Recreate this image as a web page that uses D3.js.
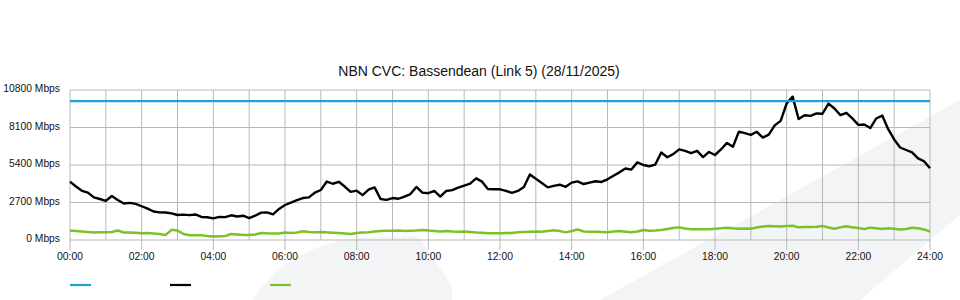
<!DOCTYPE html>
<html lang="en">

<head>
  <meta charset="UTF-8">
  <title>NBN CVC: Bassendean (Link 5)</title>
  <style>
    body {
      margin: 0;
      padding: 0;
      background-color: #fff;
      font-family: "Liberation Sans", Arial, sans-serif;
    }

    #chart {
      width: 960px;
      height: 300px;
    }
  </style>
</head>

<body>

  <script src="https://cdn.jsdelivr.net/npm/d3@7"></script>

  <div id="chart"></div>

  <script>

    // chart data (one sample every 10 minutes, 00:00 -> 24:00)
    var chartTitle = "NBN CVC: Bassendean (Link 5) (28/11/2025)";
    var stepMinutes = 10;
    var capacityMbps = 10000;

    var usageMbps = [
      4200, 3850, 3540, 3410, 3070, 2950, 2820, 3170, 2880, 2630,
      2670, 2600, 2430, 2260, 2050, 1990, 1980, 1920, 1800, 1830,
      1790, 1840, 1660, 1640, 1560, 1660, 1650, 1780, 1690, 1750,
      1580, 1750, 1970, 1990, 1850, 2240, 2520, 2690, 2870, 3020,
      3070, 3410, 3600, 4210, 4050, 4190, 3850, 3470, 3550, 3230,
      3620, 3790, 2950, 2890, 3020, 2970, 3130, 3310, 3820, 3410,
      3370, 3530, 3130, 3530, 3590, 3770, 3910, 4060, 4440, 4200,
      3660, 3650, 3650, 3540, 3400, 3530, 3820, 4720, 4410, 4100,
      3790, 3900, 3980, 3830, 4130, 4220, 4030, 4130, 4230, 4180,
      4370, 4630, 4870, 5150, 5070, 5590, 5400, 5310, 5430, 6300,
      5960, 6180, 6530, 6420, 6260, 6420, 5970, 6340, 6120, 6520,
      6990, 6710, 7800, 7690, 7570, 7790, 7370, 7590, 8250, 8580,
      9840, 10320, 8710, 8980, 8940, 9110, 9090, 9820, 9470, 8990,
      9160, 8760, 8290, 8320, 8060, 8750, 8960, 7980, 7240, 6660,
      6480, 6310, 5880, 5670, 5160
    ];

    var upstreamMbps = [
      680, 650, 610, 580, 540, 550, 550, 580, 680, 540,
      540, 530, 480, 500, 470, 430, 360, 730, 680, 430,
      340, 340, 340, 290, 250, 270, 290, 430, 400, 360,
      360, 400, 500, 480, 470, 470, 540, 500, 540, 630,
      580, 550, 580, 550, 530, 500, 470, 430, 500, 540,
      550, 610, 650, 670, 670, 680, 650, 670, 680, 720,
      680, 650, 610, 650, 610, 600, 610, 580, 540, 530,
      480, 480, 480, 500, 500, 550, 580, 600, 610, 600,
      650, 700, 650, 550, 650, 760, 610, 600, 600, 580,
      550, 610, 650, 600, 550, 610, 720, 670, 680, 720,
      790, 860, 910, 830, 770, 770, 770, 770, 810, 840,
      880, 840, 810, 830, 810, 900, 970, 1010, 990, 970,
      1010, 1030, 910, 940, 940, 950, 1010, 900, 810, 910,
      990, 910, 860, 790, 890, 840, 790, 840, 810, 760,
      790, 880, 850, 760, 610
    ];

    var yTicks = [0, 2700, 5400, 8100, 10800];
    var xTickLabels = ["00:00", "02:00", "04:00", "06:00", "08:00", "10:00", "12:00",
      "14:00", "16:00", "18:00", "20:00", "22:00", "24:00"];

    var colors = { capacity: "#1ea1dc", usage: "#000000", upstream: "#7cc128" };

    const width = 960, height = 300;
    const plot = { left: 70, right: 930, top: 90, bottom: 240 };

    const svg = d3.select("#chart")
      .append("svg")
      .attr("width", width)
      .attr("height", height);

    // faint watermark shapes behind the chart
    svg.append("path")
      .attr("d", "M253,300 Q285,246 360,238 L418,236 L452,286 L452,300 Z")
      .attr("fill", "#f3f4f6");
    svg.append("path")
      .attr("d", "M600,300 L960,100 L960,215 L860,300 Z")
      .attr("fill", "#f3f4f6");

    const xScale = d3.scaleLinear()
      .domain([0, 24 * 60])
      .range([plot.left, plot.right]);

    const yScale = d3.scaleLinear()
      .domain([0, 10800])
      .range([plot.bottom, plot.top]);

    // grid: one vertical line per hour, one horizontal line per y tick
    const grid = svg.append("g").attr("stroke", "#b8b8b8").attr("stroke-width", 1);
    grid.selectAll("line.v")
      .data(d3.range(0, 25))
      .enter()
      .append("line")
      .attr("class", "v")
      .attr("x1", d => xScale(d * 60))
      .attr("x2", d => xScale(d * 60))
      .attr("y1", plot.top)
      .attr("y2", plot.bottom);
    grid.selectAll("line.h")
      .data(yTicks)
      .enter()
      .append("line")
      .attr("class", "h")
      .attr("x1", plot.left)
      .attr("x2", plot.right)
      .attr("y1", d => yScale(d))
      .attr("y2", d => yScale(d));

    // x axis ticks + labels
    const xAxis = svg.append("g");
    xAxis.selectAll("line")
      .data(xTickLabels)
      .enter()
      .append("line")
      .attr("x1", (d, i) => xScale(i * 120))
      .attr("x2", (d, i) => xScale(i * 120))
      .attr("y1", plot.bottom)
      .attr("y2", plot.bottom + 10)
      .attr("stroke", "#b8b8b8");
    xAxis.selectAll("text")
      .data(xTickLabels)
      .enter()
      .append("text")
      .attr("x", (d, i) => xScale(i * 120))
      .attr("y", plot.bottom + 20)
      .attr("text-anchor", "middle")
      .attr("font-size", "10.3px")
      .attr("fill", "#111")
      .text(d => d);

    // y axis labels
    svg.append("g").selectAll("text")
      .data(yTicks)
      .enter()
      .append("text")
      .attr("x", plot.left - 10)
      .attr("y", d => yScale(d) - 1.5)
      .attr("dy", "0.35em")
      .attr("text-anchor", "end")
      .attr("font-size", "10.3px")
      .attr("fill", "#111")
      .text(d => d + " Mbps");

    // title
    svg.append("text")
      .attr("x", 479)
      .attr("y", 75.5)
      .attr("text-anchor", "middle")
      .attr("font-size", "14px")
      .attr("fill", "#111")
      .text(chartTitle);

    // series
    const line = d3.line()
      .x((d, i) => xScale(i * stepMinutes))
      .y(d => yScale(d));

    svg.append("path")
      .datum(upstreamMbps)
      .attr("d", line)
      .attr("fill", "none")
      .attr("stroke", colors.upstream)
      .attr("stroke-width", 2.5)
      .attr("stroke-linejoin", "round");

    svg.append("path")
      .datum(usageMbps)
      .attr("d", line)
      .attr("fill", "none")
      .attr("stroke", colors.usage)
      .attr("stroke-width", 2.4)
      .attr("stroke-linejoin", "round");

    svg.append("line")
      .attr("x1", plot.left)
      .attr("x2", plot.right)
      .attr("y1", yScale(capacityMbps))
      .attr("y2", yScale(capacityMbps))
      .attr("stroke", colors.capacity)
      .attr("stroke-width", 2.2);

    // legend (swatches only, no labels)
    const legendKeys = ["capacity", "usage", "upstream"];
    svg.append("g").selectAll("line")
      .data(legendKeys)
      .enter()
      .append("line")
      .attr("x1", (d, i) => 70 + i * 100)
      .attr("x2", (d, i) => 91 + i * 100)
      .attr("y1", 285)
      .attr("y2", 285)
      .attr("stroke", d => colors[d])
      .attr("stroke-width", 2.2);

  </script>

</body>

</html>
